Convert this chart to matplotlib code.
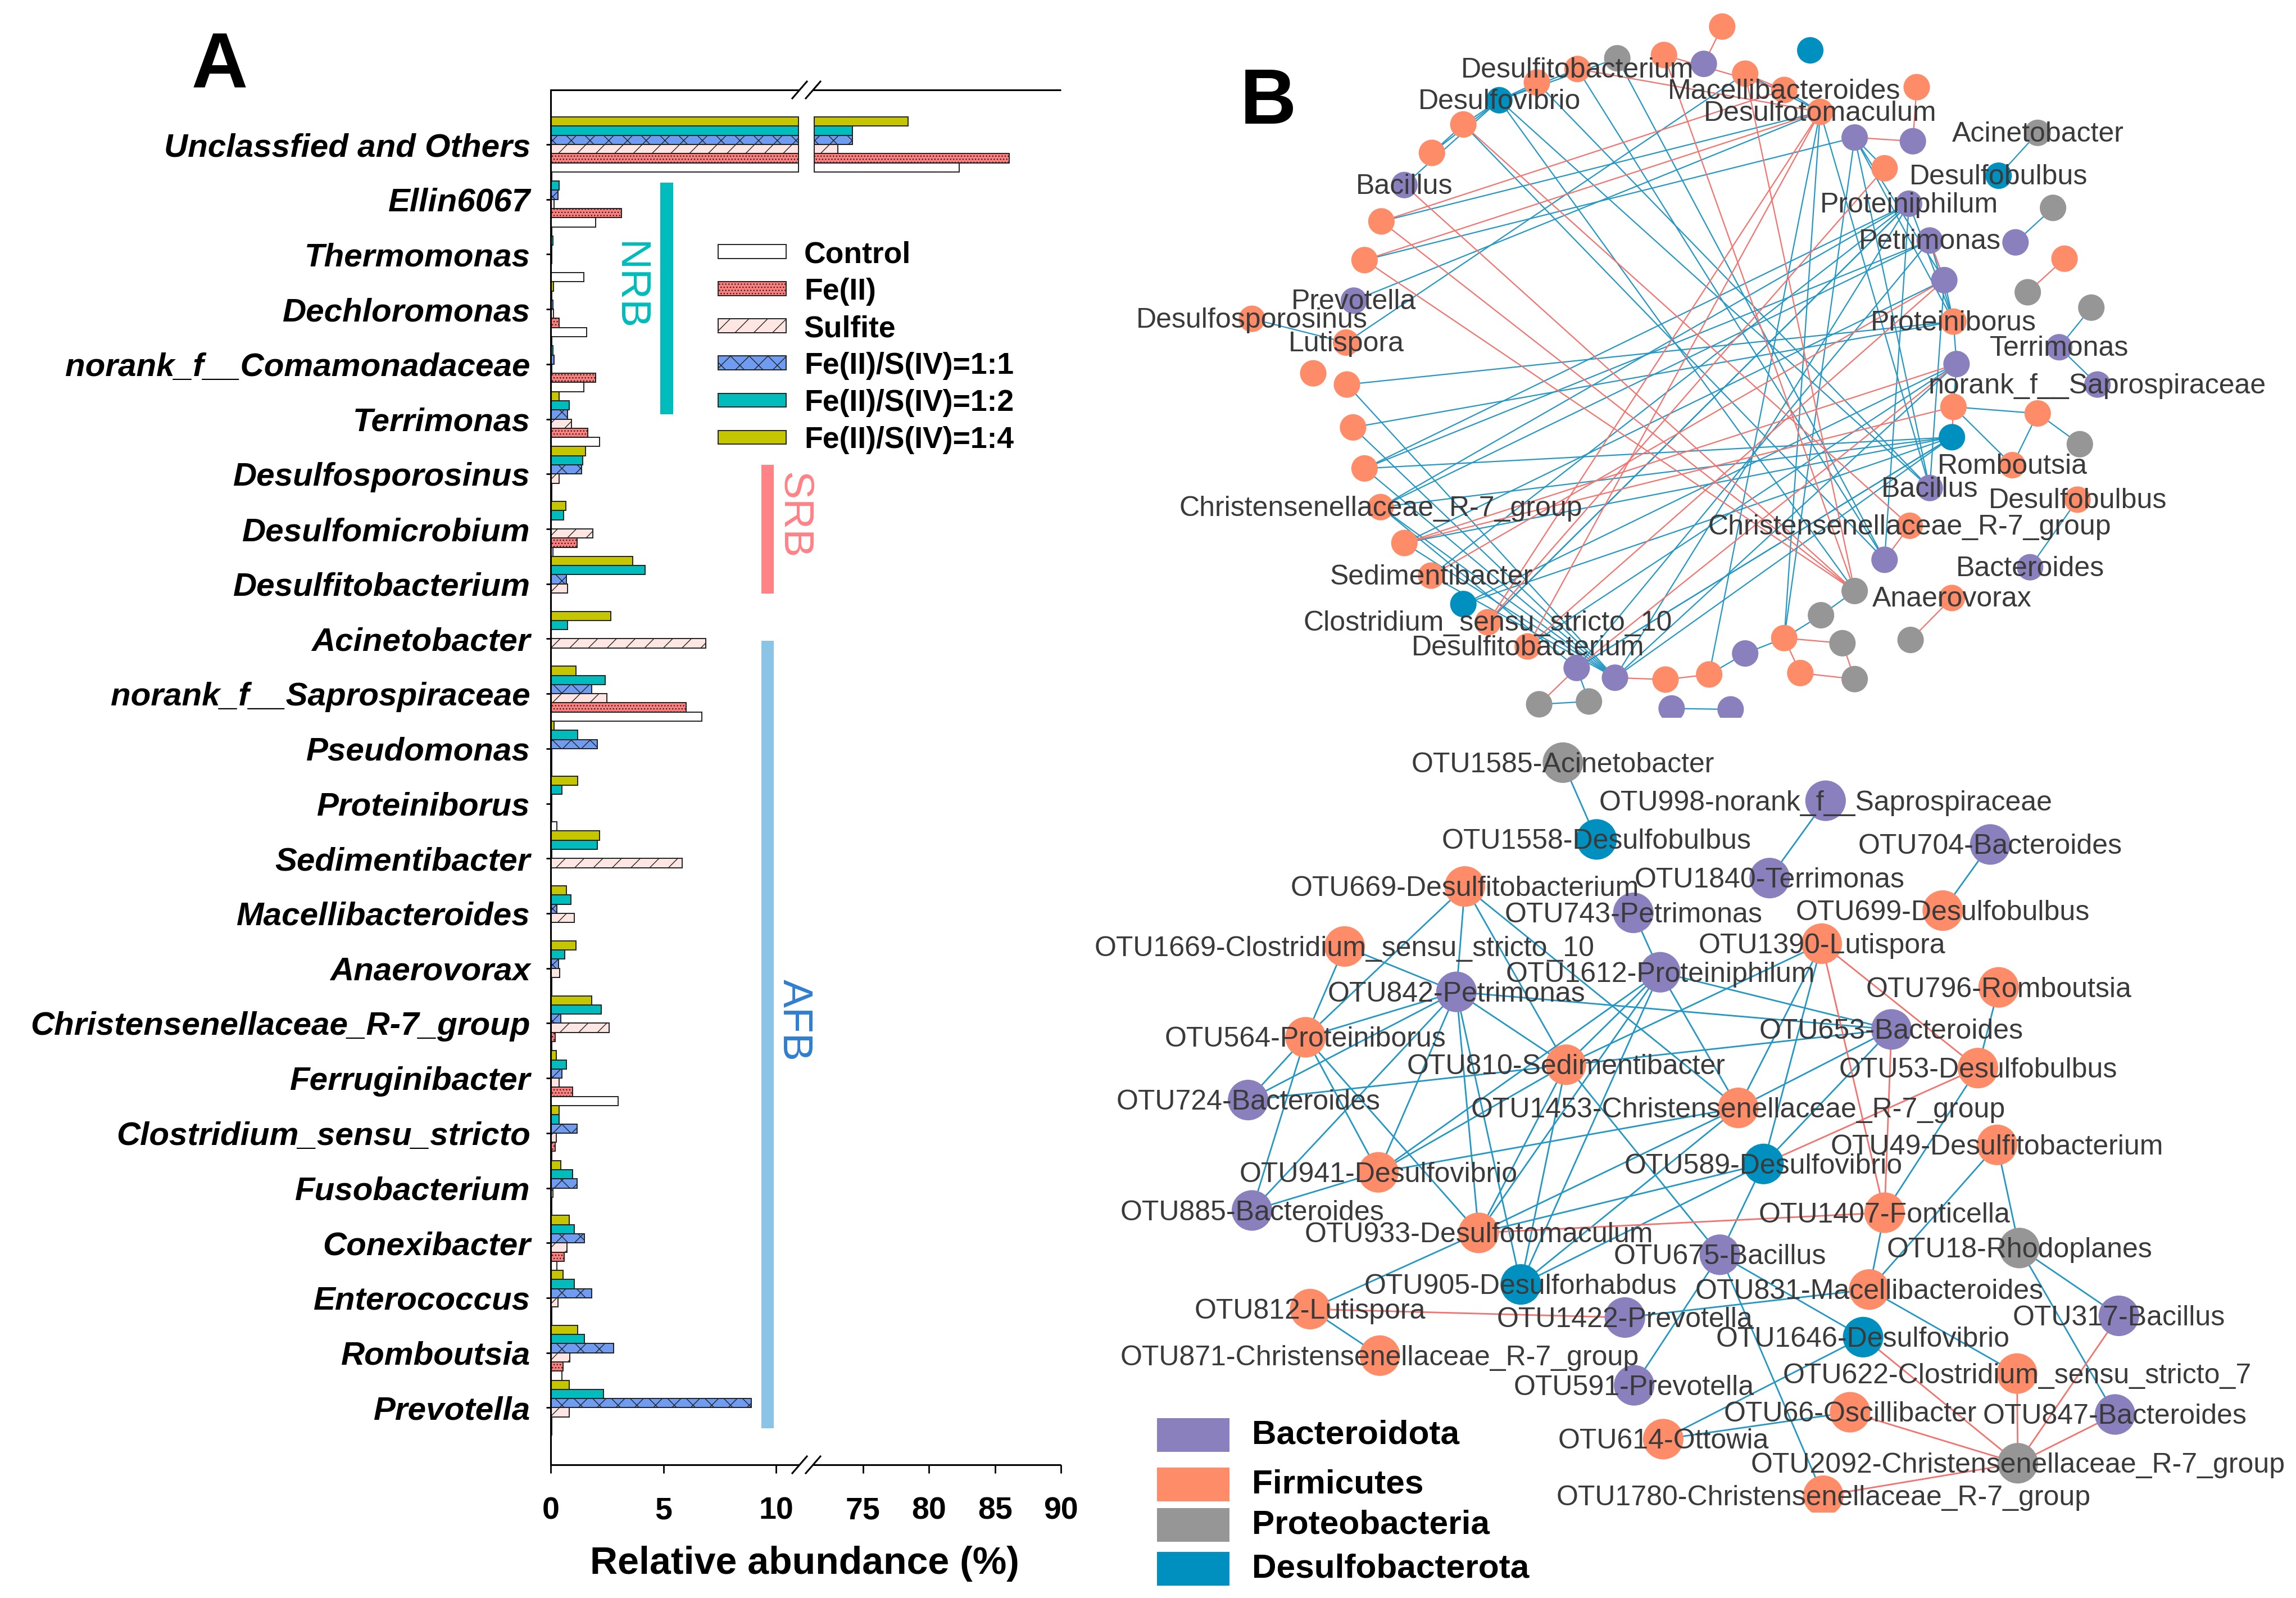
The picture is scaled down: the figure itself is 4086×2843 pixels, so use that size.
import matplotlib
matplotlib.use("Agg")
import matplotlib.pyplot as plt
import numpy as np
from matplotlib.patches import Patch, Rectangle

plt.rcParams['font.family'] = ['Liberation Sans', 'DejaVu Sans']
plt.rcParams['hatch.linewidth'] = 1.0

W, H = 4087, 2843
fig = plt.figure(figsize=(W / 100, H / 100), dpi=100, facecolor='white')


def rect_px(x0, y0, x1, y1):
    return [x0 / W, 1 - y1 / H, (x1 - x0) / W, (y1 - y0) / H]


# ---------------- Panel A data ----------------
genera = ["Unclassfied and Others", "Ellin6067", "Thermomonas", "Dechloromonas",
          "norank_f__Comamonadaceae", "Terrimonas", "Desulfosporosinus", "Desulfomicrobium",
          "Desulfitobacterium", "Acinetobacter", "norank_f__Saprospiraceae", "Pseudomonas",
          "Proteiniborus", "Sedimentibacter", "Macellibacteroides", "Anaerovorax",
          "Christensenellaceae_R-7_group", "Ferruginibacter", "Clostridium_sensu_stricto",
          "Fusobacterium", "Conexibacter", "Enterococcus", "Romboutsia", "Prevotella"]
control = [82.3, 2.0, 1.46, 1.6, 1.46, 2.16, 0.05, 0.1, 0.03, 0.02, 6.7, 0.05,
           0.27, 0.02, 0.03, 0.05, 0.05, 3.0, 0.05, 0.05, 0.28, 0.05, 0.5, 0.05]
fe2 = [86.1, 3.14, 0.02, 0.38, 2.0, 1.65, 0.05, 1.17, 0.03, 0.02, 6.0, 0.05,
       0.05, 0.02, 0.03, 0.05, 0.19, 0.98, 0.19, 0.05, 0.6, 0.05, 0.54, 0.05]
sulfite = [73.1, 0.15, 0.05, 0.13, 0.05, 0.92, 0.38, 1.87, 0.76, 6.89, 2.5, 0.05,
           0.05, 5.84, 1.05, 0.41, 2.6, 0.38, 0.25, 0.1, 0.73, 0.32, 0.86, 0.82]
r11 = [74.2, 0.32, 0.05, 0.1, 0.15, 0.76, 1.36, 0.02, 0.7, 0.02, 1.81, 2.06,
       0.05, 0.05, 0.28, 0.35, 0.44, 0.5, 1.17, 1.17, 1.5, 1.81, 2.8, 8.89]
r12 = [74.2, 0.38, 0.1, 0.05, 0.1, 0.82, 1.43, 0.57, 4.19, 0.76, 2.41, 1.2,
       0.5, 2.06, 0.9, 0.63, 2.25, 0.7, 0.38, 0.98, 1.05, 1.05, 1.5, 2.35]
r14 = [78.4, 0.05, 0.05, 0.13, 0.05, 0.38, 1.55, 0.67, 3.65, 2.67, 1.11, 0.15,
       1.2, 2.16, 0.7, 1.11, 1.81, 0.25, 0.38, 0.44, 0.82, 0.54, 1.2, 0.82]
series_names = ["Control", "Fe(II)", "Sulfite", "Fe(II)/S(IV)=1:1", "Fe(II)/S(IV)=1:2", "Fe(II)/S(IV)=1:4"]
series_vals = [control, fe2, sulfite, r11, r12, r14]
series_cols = ["white", "#ff7f7f", "#ffe6e3", "#6f9cf0", "#00bcbc", "#c6c600"]
series_hatch = [None, "...", "/", "x", None, None]
left_ticks = [0, 5, 10]
right_ticks = [75, 80, 85, 90]

# ---------------- Panel A drawing ----------------
canvas = fig.add_axes([0, 0, 1, 1])
canvas.set_xlim(0, W)
canvas.set_ylim(H, 0)
canvas.axis('off')

ax1 = fig.add_axes(rect_px(980, 160, 1424, 2606))
ax2 = fig.add_axes(rect_px(1444, 160, 1888, 2606))
for a in (ax1, ax2):
    a.patch.set_alpha(0)
    for s in a.spines.values():
        s.set_visible(False)
    a.set_ylim(24.04, -0.993)

ax1.set_xlim(0, 11.07)
ax2.set_xlim(71.08, 90)
BREAK_LO, BREAK_HI = 11.0, 71.3
bar_h = 1 / 6
y = np.arange(len(genera))
handles = []
for k, (name, vals, col, ht) in enumerate(zip(series_names, series_vals, series_cols, series_hatch)):
    vals = np.array(vals)
    pos = y + (2.5 - k) * bar_h
    ax1.barh(pos, np.minimum(vals, BREAK_LO), height=bar_h, color=col, edgecolor='#222222',
             hatch=ht, linewidth=1.4)
    big = vals > BREAK_HI
    ax2.barh(pos[big], vals[big] - BREAK_HI, left=BREAK_HI, height=bar_h, color=col,
             edgecolor='#222222', hatch=ht, linewidth=1.4)
    handles.append(Patch(facecolor=col, edgecolor='#222222', hatch=ht, linewidth=1.4, label=name))

ax1.spines['left'].set_visible(True)
ax1.spines['left'].set_linewidth(2.2)
ax1.set_yticks(y)
ax1.set_yticklabels(genera, fontsize=42, fontweight='bold', fontstyle='italic', color='black')
ax1.tick_params(axis='y', length=6, width=2, pad=20)
ax2.set_yticks([])
ax1.set_xticks(left_ticks)
ax2.set_xticks(right_ticks)
for a in (ax1, ax2):
    a.tick_params(axis='x', length=11, width=2, pad=30, labelsize=40)
    for t in a.get_xticklabels():
        t.set_fontweight('bold')

# axis lines with break marks
for yy in (160, 2606):
    canvas.plot([980, 1888], [yy, yy], color='black', lw=2.2, solid_capstyle='butt', zorder=3)
    canvas.add_patch(Rectangle((1423, yy - 5), 22, 10, color='white', zorder=3.5))
    for dx in (0, 24):
        canvas.plot([1410 + dx, 1436 + dx], [yy + 15, yy - 15], color='black', lw=2.2, zorder=4)
canvas.text(1432, 2782, "Relative abundance (%)", fontsize=49, fontweight='bold', ha='center', va='center')

# functional groups
groups = [("NRB", 1175, 325, 1198, 737, 1119, 509, "#00bcbc", "#00bcbc"),
          ("SRB", 1355, 827, 1377, 1056, 1413, 917, "#ff8286", "#ff8286"),
          ("AFB", 1355, 1140, 1377, 2541, 1413, 1815, "#8cc4e8", "#2f7fd0")]
for name, x0, y0, x1, y1, tx, ty, col, tc in groups:
    canvas.add_patch(Rectangle((x0, y0), x1 - x0, y1 - y0, color=col, lw=0))
    canvas.text(tx, ty, name, fontsize=54, rotation=270, color=tc, ha='center', va='center')

leg = canvas.legend(handles=handles, loc='upper left',
                    bbox_to_anchor=(1278 / W, 1 - 428 / H), bbox_transform=fig.transFigure,
                    frameon=False, prop={'weight': 'bold', 'size': 38.5},
                    handlelength=2.26, handleheight=0.34, handletextpad=0.6,
                    labelspacing=0.30, borderpad=0, borderaxespad=0)

canvas.text(391, 120, "A", fontsize=100, fontweight='bold', ha='center', va='center')
canvas.text(2257, 184, "B", fontsize=100, fontweight='bold', ha='center', va='center')

# ---------------- Panel B data ----------------
PHYLA = {"B": "#8a80bd", "F": "#ff8c69", "P": "#969696", "D": "#0090c0"}
phyla_names = ["Bacteroidota", "Firmicutes", "Proteobacteria", "Desulfobacterota"]
phyla_keys = ["B", "F", "P", "D"]

up_x = [818, 794, 742, 681, 629, 576, 527, 480, 439, 403, 373, 351, 337, 204, 327, 284, 328, 336, 351, 372,
        403, 438, 480, 512, 564, 628, 678, 744, 801, 848, 899, 920, 975, 991, 947, 991, 1030, 1063, 1089, 1197,
        1118, 1120, 1230, 1285, 1124, 1120, 1108, 1089, 1062, 1030, 991, 1067, 1072, 946, 899, 933, 848, 1230,
        1179, 1250, 1201, 1265, 1217, 1300, 1258, 1308, 1282, 1220, 1118, 1064, 579, 644, 752, 829]
up_y = [57, 137, 118, 125, 148, 177, 215, 267, 328, 397, 475, 558, 645, 684, 735, 801, 825, 917, 1005, 1088,
        1165, 1235, 1296, 1335, 1387, 1433, 1454, 1458, 1447, 1402, 1369, 1444, 1380, 1457, 1320, 1268, 1201,
        1128, 1047, 998, 938, 873, 887, 953, 781, 690, 601, 516, 437, 361, 295, 303, 187, 240, 193, 108, 158,
        285, 377, 446, 520, 555, 627, 660, 745, 825, 1072, 1217, 1283, 1373, 1511, 1505, 1520, 1522]
up_phylum = list("FBFPFFDFFBFFBFFFFFFF" "FFDFFBBFFBFFPPPPBFBF" "DFFPBFBBBFBBFFFDFP" "DPBFPPBBFBFPPPBB")
up_labels = {4: "Desulfitobacterium", 6: "Desulfovibrio", 9: "Bacillus", 12: "Prevotella",
             13: "Desulfosporosinus", 14: "Lutispora", 19: "Christensenellaceae_R-7_group",
             21: "Sedimentibacter", 23: "Clostridium_sensu_stricto_10", 24: "Desulfitobacterium",
             37: "Christensenellaceae_R-7_group", 38: "Bacillus", 39: "Romboutsia", 45: "Proteiniborus",
             47: "Petrimonas", 48: "Proteiniphilum", 53: "Desulfotomaculum", 54: "Macellibacteroides",
             57: "Acinetobacter", 58: "Desulfobulbus", 64: "Terrimonas", 65: "norank_f__Saprospiraceae",
             66: "Desulfobulbus", 67: "Bacteroides", 68: "Anaerovorax"}
up_blue = [(3, 6), (4, 6), (5, 6), (6, 7), (6, 8), (6, 9), (7, 8), (53, 54), (56, 53), (49, 50), (46, 47), (47, 45),
           (48, 45), (50, 45), (50, 46), (58, 57), (60, 59), (63, 64), (64, 65), (45, 46), (44, 45), (41, 42),
           (42, 43), (42, 39), (41, 39), (44, 41), (66, 67), (72, 73), (28, 29), (29, 30), (30, 34), (34, 35),
           (70, 71), (25, 71), (13, 14), (16, 45), (17, 45), (18, 40), (20, 40), (19, 40), (22, 40), (18, 48),
           (19, 48), (18, 47), (19, 47), (11, 50), (12, 53), (14, 56), (3, 36), (4, 36), (6, 38), (5, 38), (6, 35),
           (53, 30), (53, 28), (53, 38), (50, 38), (48, 26), (47, 25), (44, 26), (40, 25), (40, 26), (18, 26),
           (17, 26), (16, 26), (19, 26), (20, 26), (19, 25), (21, 26), (21, 48), (20, 46), (23, 48), (10, 53),
           (7, 36), (50, 30), (48, 23), (22, 44), (24, 44), (25, 40), (46, 38), (36, 48)]
up_red = [(0, 1), (2, 54), (54, 56), (4, 53), (50, 51), (51, 52), (46, 47), (61, 62), (40, 41), (37, 36), (68, 69),
          (25, 70), (26, 27), (27, 28), (30, 32), (30, 31), (31, 33), (32, 33), (10, 54), (11, 53), (10, 35),
          (11, 35), (9, 35), (2, 35), (56, 35), (20, 41), (23, 53), (24, 53), (23, 49), (24, 46), (25, 44),
          (7, 37), (21, 46), (20, 44)]

lo_names = ["OTU1585-Acinetobacter", "OTU998-norank_f__Saprospiraceae", "OTU1558-Desulfobulbus", "OTU704-Bacteroides",
            "OTU669-Desulfitobacterium", "OTU1840-Terrimonas", "OTU743-Petrimonas", "OTU699-Desulfobulbus",
            "OTU1669-Clostridium_sensu_stricto_10", "OTU1390-Lutispora", "OTU1612-Proteiniphilum", "OTU842-Petrimonas",
            "OTU796-Romboutsia", "OTU564-Proteiniborus", "OTU653-Bacteroides", "OTU810-Sedimentibacter",
            "OTU53-Desulfobulbus", "OTU724-Bacteroides", "OTU1453-Christensenellaceae_R-7_group",
            "OTU49-Desulfitobacterium", "OTU941-Desulfovibrio", "OTU589-Desulfovibrio", "OTU885-Bacteroides",
            "OTU1407-Fonticella", "OTU933-Desulfotomaculum", "OTU18-Rhodoplanes", "OTU675-Bacillus",
            "OTU905-Desulforhabdus", "OTU831-Macellibacteroides", "OTU812-Lutispora", "OTU1422-Prevotella",
            "OTU317-Bacillus", "OTU1646-Desulfovibrio", "OTU871-Christensenellaceae_R-7_group",
            "OTU622-Clostridium_sensu_stricto_7", "OTU591-Prevotella", "OTU66-Oscillibacter", "OTU847-Bacteroides",
            "OTU614-Ottowia", "OTU2092-Christensenellaceae_R-7_group", "OTU1780-Christensenellaceae_R-7_group"]
lo_x = [610, 953, 654, 1168, 482, 880, 702, 1106, 325, 948, 737, 471, 1179, 274, 1039, 614, 1152, 199, 839, 1177,
        369, 872, 204, 1030, 500, 1206, 815, 555, 1010, 280, 691, 1336, 1002, 371, 1203, 703, 985, 1331, 741, 1204, 950]
lo_y = [77, 145, 214, 223, 298, 283, 345, 341, 405, 400, 451, 486, 478, 567, 553, 616, 622, 679, 693, 759,
        808, 793, 876, 880, 916, 943, 955, 1008, 1017, 1052, 1067, 1064, 1102, 1135, 1167, 1188, 1236, 1240, 1284,
        1327, 1385]
lo_phylum = list("PBDBFBBFFFBBFFBFFBFFFDBFFPBDFFBBDFFBFBFPF")
lo_blue = [(0, 2), (1, 5), (3, 7), (4, 11), (4, 13), (4, 18), (8, 13), (8, 11), (6, 10), (10, 14), (10, 15), (10, 18),
           (10, 24), (10, 27), (10, 20), (9, 15), (9, 18), (9, 21), (11, 13), (11, 14), (11, 15), (11, 17), (11, 20),
           (11, 24), (11, 27), (13, 17), (13, 20), (13, 22), (13, 24), (14, 17), (14, 18), (14, 21), (12, 16), (15, 20),
           (15, 24), (15, 27), (15, 26), (18, 20), (18, 24), (20, 22), (21, 24), (21, 27), (21, 26), (18, 27), (16, 23),
           (19, 28), (19, 25), (25, 31), (25, 37), (23, 28), (24, 29), (29, 33), (30, 28), (26, 35), (26, 32), (28, 34),
           (26, 40), (32, 38), (36, 38), (22, 11), (4, 15)]
lo_red = [(16, 21), (9, 16), (9, 23), (14, 23), (24, 23), (29, 30), (32, 39), (36, 39), (34, 39), (37, 39), (31, 39),
          (40, 39)]

BLUE_EDGE = "#2498c4"
RED_EDGE = "#f4736e"
TXT = "#3a3a3a"


def draw_net(ax, xs, ys, phyla, blue, red, labels, size, lw, dy):
    xs = np.array(xs, float)
    ys = np.array(ys, float)
    for (a, b) in blue:
        ax.plot(xs[[a, b]], ys[[a, b]], color=BLUE_EDGE, lw=lw, zorder=1)
    for (a, b) in red:
        ax.plot(xs[[a, b]], ys[[a, b]], color=RED_EDGE, lw=lw, zorder=1.2)
    ax.scatter(xs, ys, s=size, c=[PHYLA[p] for p in phyla], linewidths=0, zorder=2)
    for i, lab in labels.items():
        ax.text(xs[i], ys[i] + dy, lab, fontsize=36, color=TXT, ha='center', va='center', zorder=3, clip_on=False)


axU = fig.add_axes(rect_px(1950, 0, W, 1277))
axU.set_xlim(0, 1568)
axU.set_ylim(1540, 0)
axU.axis('off')
draw_net(axU, up_x, up_y, up_phylum, up_blue, up_red, up_labels, 1150, 1.6, 3)

axL = fig.add_axes(rect_px(1950, 1280, W, 2691))
axL.set_xlim(0, 1568)
axL.set_ylim(1415, 0)
axL.axis('off')
draw_net(axL, lo_x, lo_y, lo_phylum, lo_blue, lo_red, dict(enumerate(lo_names)), 2700, 2.0, 4)

# phylum legend
leg_y = [2553, 2641, 2713, 2791]
for name, key, yy in zip(phyla_names, phyla_keys, leg_y):
    canvas.add_patch(Rectangle((2059, yy - 30), 129, 60, color=PHYLA[key], lw=0))
    canvas.text(2228, yy, name, fontsize=43.5, fontweight='bold', ha='left', va='center')

fig.savefig("out.png", dpi=100, facecolor='white')
